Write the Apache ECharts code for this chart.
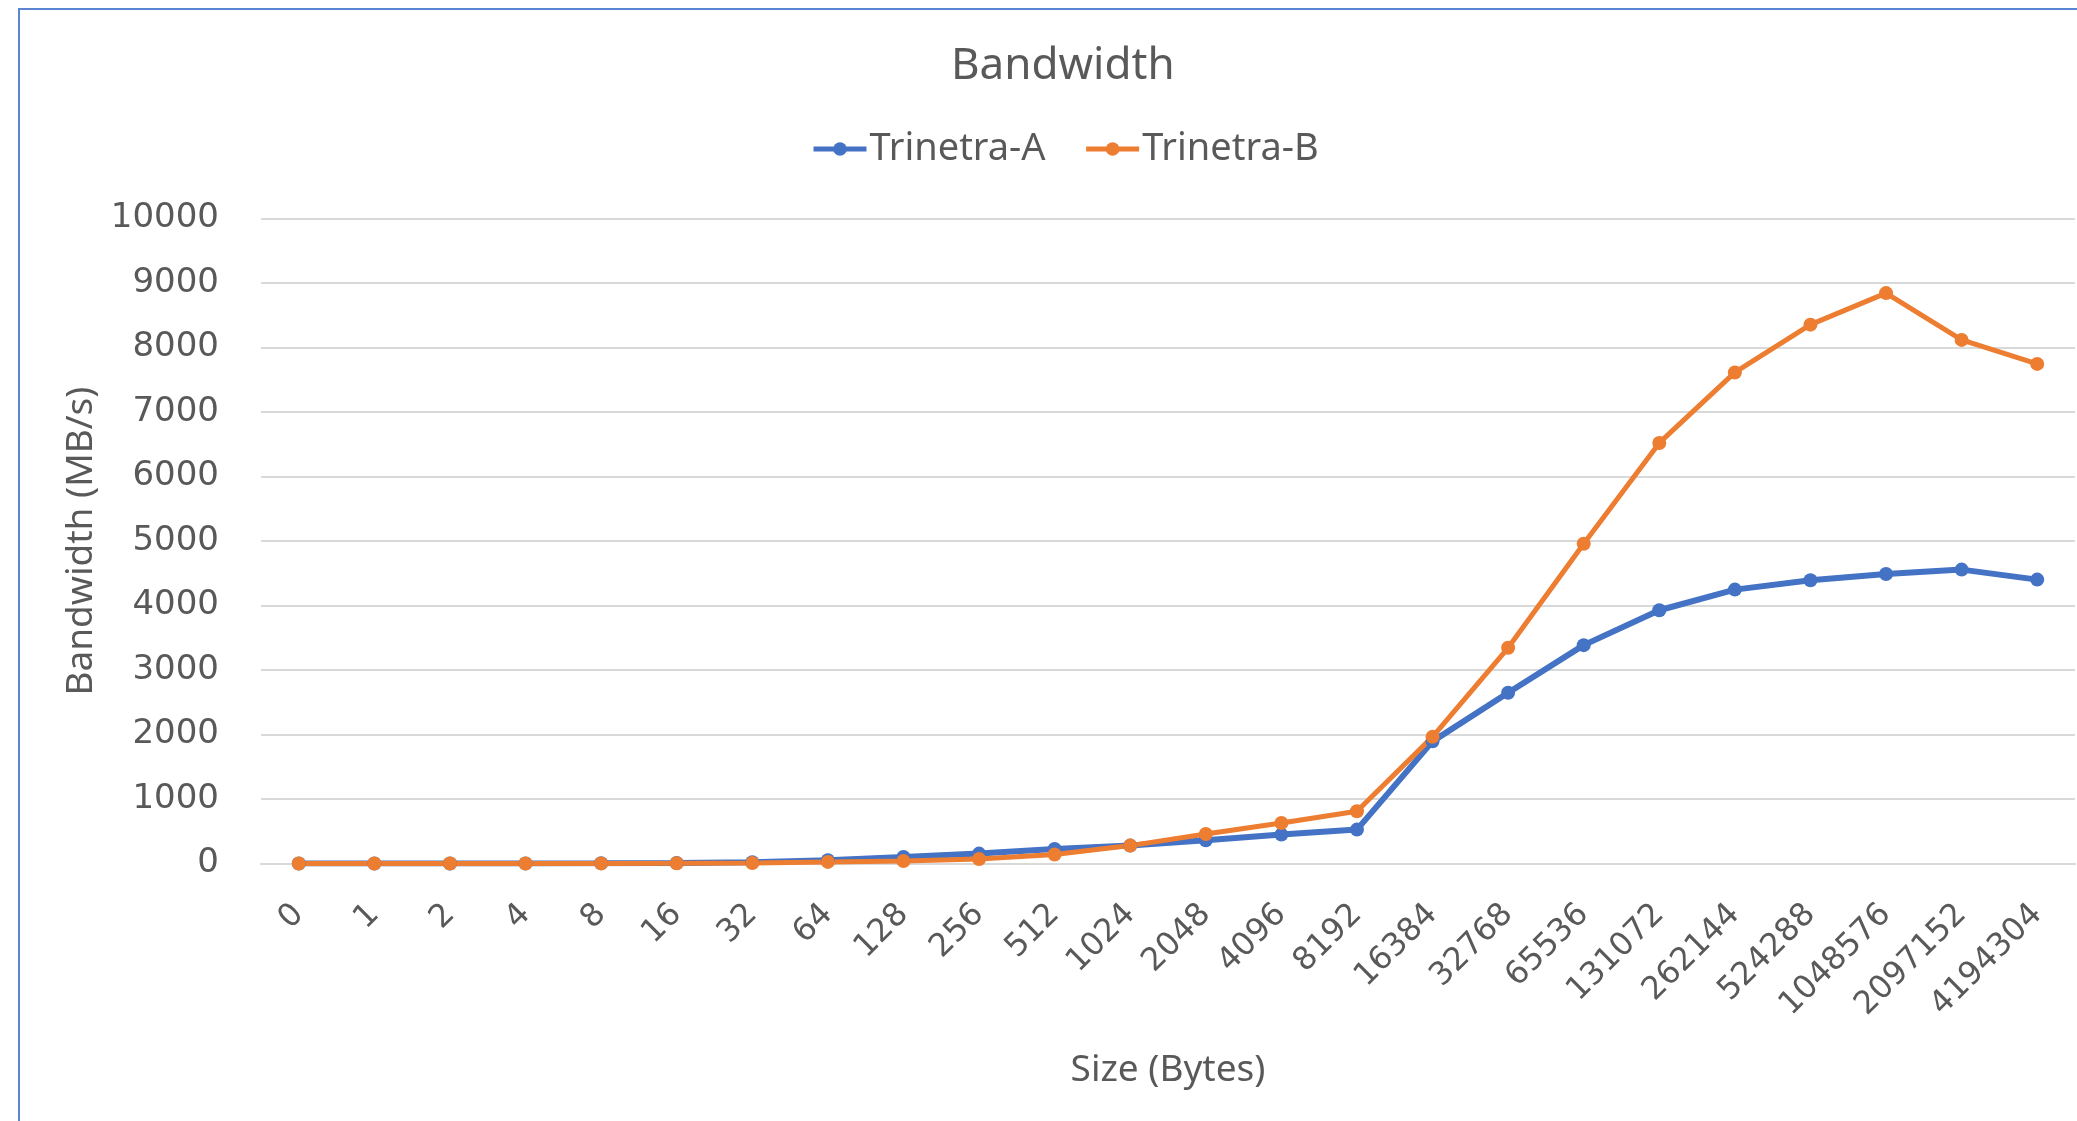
<!DOCTYPE html>
<html>
<head>
<meta charset="utf-8">
<title>Bandwidth</title>
<script src="https://cdn.jsdelivr.net/npm/echarts@6/dist/echarts.min.js"></script>
<style>
  html, body { margin: 0; padding: 0; background: #fff; }
  #chart { width: 2077px; height: 1121px; }
  #frame {
    position: absolute; left: 18px; top: 8px; right: 0; bottom: 0;
    border-left: 2px solid #5B84D3; border-top: 2px solid #5B84D3;
    pointer-events: none;
  }
</style>
</head>
<body>
<div id="chart"></div>
<div id="frame"></div>
<script>
// message sizes (bytes)
var sizes = ['0', '1', '2', '4', '8', '16', '32', '64', '128', '256', '512', '1024',
  '2048', '4096', '8192', '16384', '32768', '65536', '131072', '262144', '524288',
  '1048576', '2097152', '4194304']

// bandwidth in MB/s
var trinetraA = [1, 1, 2, 3, 5, 10, 20, 52, 103, 155, 227, 279, 362, 450, 527,
  1895, 2649, 3387, 3928, 4248, 4393, 4491, 4558, 4403]
var trinetraB = [1, 1, 1, 2, 3, 5, 10, 26, 41, 72, 140, 279, 460, 630, 811,
  1965, 3346, 4959, 6522, 7615, 8356, 8845, 8119, 7747]

var yTicks = { min: 0, max: 10000, interval: 1000 }

var textColor = '#595959'
var gridColor = '#D9D9D9'

var chart = echarts.init(document.getElementById('chart'))

chart.setOption({
  animation: false,
  title: {
    text: 'Bandwidth',
    left: 951,
    top: 44,
    padding: 0,
    textStyle: { fontFamily: 'Noto Sans', fontSize: 44, fontWeight: 'normal', color: textColor }
  },
  legend: {
    data: [
      { name: 'Trinetra-A', lineStyle: { width: 5 } },
      { name: 'Trinetra-B', lineStyle: { width: 5 } }
    ],
    left: 811,
    top: 130,
    padding: 0,
    itemGap: 38,
    itemWidth: 53,
    itemHeight: 17,
    textStyle: { fontFamily: 'Noto Sans', fontSize: 38, color: textColor, padding: [0, 0, 0, -2] }
  },
  grid: {
    left: 261,
    right: 2,
    top: 218.6,
    bottom: 257.4,
    containLabel: false
  },
  xAxis: {
    type: 'category',
    data: sizes,
    boundaryGap: true,
    name: 'Size (Bytes)',
    nameLocation: 'middle',
    nameGap: 188,
    nameTextStyle: { fontFamily: 'Noto Sans', fontSize: 37, color: textColor },
    axisLine: { lineStyle: { color: gridColor, width: 2 } },
    axisTick: { show: false },
    axisLabel: {
      rotate: 45,
      margin: 46,
      interval: 0,
      fontFamily: 'DejaVu Sans',
      fontSize: 32,
      color: textColor
    }
  },
  yAxis: {
    type: 'value',
    min: yTicks.min,
    max: yTicks.max,
    interval: yTicks.interval,
    name: 'Bandwidth (MB/s)',
    nameLocation: 'middle',
    nameGap: 151,
    nameTextStyle: { fontFamily: 'Noto Sans', fontSize: 37, color: textColor },
    axisLine: { show: false },
    axisTick: { show: false },
    axisLabel: {
      margin: 42,
      fontFamily: 'DejaVu Sans',
      fontSize: 34,
      color: textColor,
      formatter: function (v) { return String(v) }
    },
    splitLine: { lineStyle: { color: gridColor, width: 2 } }
  },
  series: [
    {
      name: 'Trinetra-A',
      type: 'line',
      data: trinetraA,
      symbol: 'circle',
      symbolSize: 14,
      itemStyle: { color: '#4472C4' },
      lineStyle: { color: '#4472C4', width: 6 }
    },
    {
      name: 'Trinetra-B',
      type: 'line',
      data: trinetraB,
      symbol: 'circle',
      symbolSize: 14,
      itemStyle: { color: '#ED7D31' },
      lineStyle: { color: '#ED7D31', width: 5 }
    }
  ]
})
</script>
</body>
</html>
